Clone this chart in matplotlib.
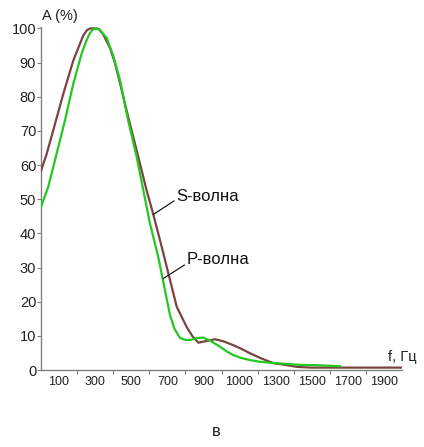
import matplotlib
matplotlib.use("Agg")
import matplotlib.pyplot as plt

plt.rcParams['font.family'] = ['Liberation Sans', 'DejaVu Sans']

# S-wave spectrum (brown)
s_freq = [0, 30, 68, 124, 179, 234, 255, 275, 300, 322, 345, 382, 410, 440, 465,
          493, 539, 585, 622, 669, 715, 752, 807, 840, 872, 910, 964, 1010,
          1064, 1110, 1158, 1220, 1287, 1341, 1420, 1500, 2000]
s_amp = [58.3, 63.0, 70.2, 80.9, 90.6, 97.9, 99.5, 100, 100, 99.8, 98.2, 94.3, 89.8,
         83.5, 78.0, 72.0, 62.4, 52.6, 45.6, 36.0, 26.3, 18.5, 12.6, 9.8, 8.0,
         8.4, 9.0, 8.4, 7.3, 6.2, 4.9, 3.4, 2.0, 1.6, 0.9, 0.7, 0.7]

# P-wave spectrum (green)
p_freq = [0, 40, 87, 133, 179, 225, 250, 271, 290, 308, 330, 364, 400, 438, 460,
          484, 530, 567, 604, 650, 687, 715, 740, 770, 800, 830, 860, 898, 940,
          992, 1030, 1064, 1110, 1158, 1213, 1300, 1435, 1530, 1657]
p_amp = [47.7, 53.6, 63.4, 73.1, 83.8, 92.6, 96.2, 98.6, 99.8, 100, 99.3, 97.2, 92.0,
         84.8, 79.0, 72.8, 62.4, 52.6, 42.8, 33.0, 23.3, 16.0, 12.0, 9.4, 8.8,
         8.8, 9.3, 9.5, 8.5, 6.8, 5.4, 4.4, 3.5, 2.9, 2.4, 2.0, 1.5, 1.4, 1.1]

y_ticks = list(range(0, 101, 10))
x_tick_marks = list(range(200, 1900, 200))
x_label_pos = list(range(100, 2000, 200))
x_labels = ['100', '300', '500', '700', '900', '1000', '1300', '1500', '1700', '1900']

W, H = 424, 447
fig = plt.figure(figsize=(W / 100, H / 100), dpi=100)
ax = fig.add_axes([41 / W, 1 - 370 / H, 361 / W, 343 / H])

ax.plot(s_freq, s_amp, color='#7b4242', lw=1.6, zorder=3)
ax.plot(p_freq, p_amp, color='#22c822', lw=1.6, zorder=4)

ax.set_xlim(0, 2000)
ax.set_ylim(0, 100.4)

for side in ('top', 'right'):
    ax.spines[side].set_visible(False)
for side in ('left', 'bottom'):
    ax.spines[side].set_color('#808080')
    ax.spines[side].set_linewidth(1.0)

ax.set_yticks(y_ticks)
ax.tick_params(axis='y', length=3, width=0.8, color='#808080', pad=0.5,
               labelsize=10.5, labelcolor='#222222')

ax.set_xticks(x_tick_marks)
ax.set_xticklabels([])
ax.set_xticks(x_label_pos, minor=True)
ax.set_xticklabels(x_labels, minor=True)
ax.tick_params(axis='x', which='major', length=3, width=0.8, color='#808080')
ax.tick_params(axis='x', which='minor', length=0, pad=4.5, labelsize=9,
               labelcolor='#222222')

# wave labels with leader lines
ax.plot([622, 737], [45.5, 49.5], color='black', lw=0.8, zorder=5)
ax.text(752, 50.9, 'S-волна', fontsize=12, va='center', ha='left', color='#111111')
ax.plot([678, 794], [26.8, 30.7], color='black', lw=0.8, zorder=5)
ax.text(807, 32.2, 'P-волна', fontsize=12, va='center', ha='left', color='#111111')

fig.text(42 / W, 1 - 16 / H, 'A (%)', fontsize=10.5, ha='left', va='center', color='#222222')
fig.text(388 / W, 1 - 357 / H, 'f, Гц', fontsize=10.5, ha='left', va='center', color='#222222')
fig.text(216 / W, 1 - 432 / H, 'в', fontsize=12, ha='center', va='center', color='#222222')

fig.savefig('out.png', dpi=100)
